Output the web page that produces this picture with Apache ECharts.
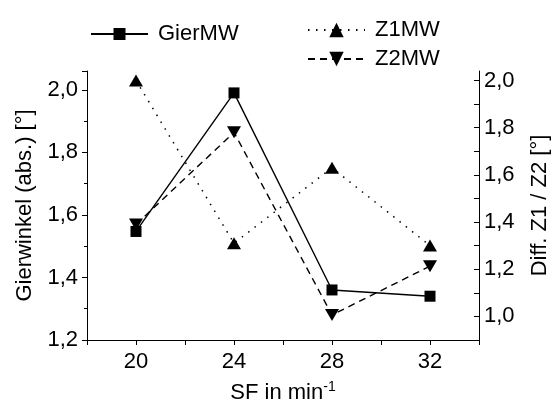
<!DOCTYPE html>
<html>
<head>
<meta charset="utf-8">
<script src="https://cdn.jsdelivr.net/npm/echarts@6/dist/echarts.min.js"></script>
<style>
  html, body { margin: 0; padding: 0; background: #fff; }
  #chart { width: 553px; height: 399px; }
</style>
</head>
<body>
<div id="chart"></div>
<script>
var sf = [20, 24, 28, 32];
var gierMW = [1.547, 1.99, 1.36, 1.34];
var z1MW = [2.0, 1.31, 1.63, 1.30];
var z2MW = [1.39, 1.78, 1.006, 1.213];

function pairs(ys) {
    return sf.map(function (x, i) { return [x, ys[i]]; });
}

// only label the even tenths, with a decimal comma
function tenths(v) {
    var t = Math.round(v * 10);
    if (t % 2) return '';
    return (t / 10).toFixed(1).replace('.', ',');
}

var font = 'Liberation Sans, Arial, sans-serif';
var black = '#000';
var legendText = { fontSize: 22, fontFamily: font, color: black, padding: [0, 0, 0, 5] };

var chart = echarts.init(document.getElementById('chart'));
chart.setOption({
    animation: false,
    textStyle: { fontFamily: font, color: black },
    grid: { left: 87, right: 74, top: 71, bottom: 59, outerBoundsMode: 'none' },
    legend: [
        {
            data: ['GierMW'],
            left: 90, top: 23, padding: 0,
            itemWidth: 57, itemHeight: 15,
            textStyle: legendText
        },
        {
            data: ['Z1MW', 'Z2MW'],
            orient: 'vertical',
            left: 307, top: 19, padding: 0,
            itemGap: 7,
            itemWidth: 57, itemHeight: 18,
            textStyle: legendText
        }
    ],
    xAxis: {
        type: 'value',
        min: 18, max: 34, interval: 2,
        name: '{a|SF in min}{b|-1}',
        nameLocation: 'middle',
        nameGap: 40,
        nameTextStyle: {
            rich: {
                a: { fontSize: 22, fontFamily: font, color: black },
                b: { fontSize: 14, fontFamily: font, color: black, verticalAlign: 'top', padding: [0, 0, 12, 0] }
            }
        },
        axisLine: { lineStyle: { color: black, width: 1 } },
        axisTick: { length: 5, lineStyle: { color: black } },
        axisLabel: {
            fontSize: 22, color: black, margin: 11,
            formatter: function (v) { return v % 4 === 0 ? String(v) : ''; }
        },
        splitLine: { show: false }
    },
    yAxis: [
        {
            type: 'value',
            min: 1.2, max: 2.06, interval: 0.2,
            name: 'Gierwinkel (abs.) [°]',
            nameLocation: 'middle',
            nameRotate: 90,
            nameGap: 51,
            nameTextStyle: { fontSize: 22, color: black },
            axisLine: { show: true, lineStyle: { color: black, width: 1 } },
            axisTick: { length: 5, lineStyle: { color: black } },
            minorTick: { show: true, splitNumber: 2, length: 3, lineStyle: { color: black } },
            axisLabel: { fontSize: 22, color: black, margin: 9, formatter: tenths, showMaxLabel: false },
            splitLine: { show: false }
        },
        {
            type: 'value',
            position: 'right',
            min: 0.9, max: 2.04, interval: 0.1,
            name: 'Diff. Z1 / Z2 [°]',
            nameLocation: 'middle',
            nameRotate: 90,
            nameGap: 50,
            nameTextStyle: { fontSize: 22, color: black },
            axisLine: { show: true, lineStyle: { color: black, width: 1 } },
            axisTick: { inside: true, length: 5, lineStyle: { color: black } },
            axisLabel: { fontSize: 22, color: black, margin: 5, formatter: tenths, showMaxLabel: false },
            splitLine: { show: false }
        }
    ],
    series: [
        {
            name: 'GierMW',
            type: 'line',
            yAxisIndex: 0,
            data: pairs(gierMW),
            symbol: 'rect',
            symbolSize: 11,
            itemStyle: { color: black },
            lineStyle: { color: black, width: 1.4 }
        },
        {
            name: 'Z1MW',
            type: 'line',
            yAxisIndex: 1,
            data: pairs(z1MW),
            symbol: 'triangle',
            symbolSize: [14, 12],
            itemStyle: { color: black },
            lineStyle: { color: black, width: 1.5, type: [1.5, 6.5] }
        },
        {
            name: 'Z2MW',
            type: 'line',
            yAxisIndex: 1,
            data: pairs(z2MW),
            symbol: 'triangle',
            symbolRotate: 180,
            symbolSize: [14, 12],
            itemStyle: { color: black },
            lineStyle: { color: black, width: 1.4, type: [7, 5] }
        }
    ]
});
</script>
</body>
</html>
